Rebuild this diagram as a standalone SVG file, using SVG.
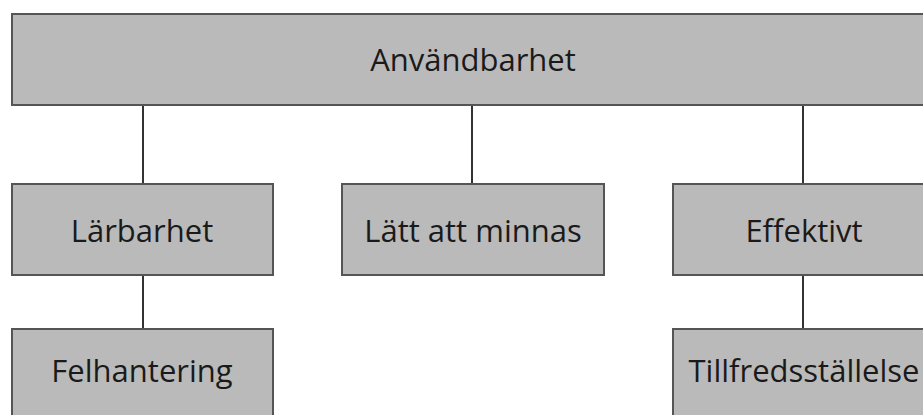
<svg xmlns="http://www.w3.org/2000/svg" width="923" height="415" viewBox="0 0 923 415">
  <style>
    .box { fill: #bababa; stroke: #555555; stroke-width: 2; }
    .lbl { font-family: "Open Sans", "Liberation Sans", sans-serif; font-size: 31px; fill: #1a1a1a; text-anchor: middle; }
    .wire { stroke: #333333; stroke-width: 2; fill: none; }
  </style>
  <rect width="923" height="415" fill="#ffffff"/>

  <g id="connectors">
    <line class="wire" x1="143" y1="105" x2="143" y2="184"/>
    <line class="wire" x1="472" y1="105" x2="472" y2="184"/>
    <line class="wire" x1="803" y1="105" x2="803" y2="184"/>
    <line class="wire" x1="143" y1="275" x2="143" y2="329"/>
    <line class="wire" x1="803" y1="275" x2="803" y2="329"/>
  </g>

  <g id="anvandbarhet">
    <rect class="box" x="12" y="14" width="922" height="91"/>
    <text class="lbl" x="473" y="71">Användbarhet</text>
  </g>

  <g id="larbarhet">
    <rect class="box" x="12" y="184" width="261" height="91"/>
    <text class="lbl" x="142" y="242">Lärbarhet</text>
  </g>

  <g id="latt-att-minnas">
    <rect class="box" x="342" y="184" width="262" height="91"/>
    <text class="lbl" x="473" y="242">Lätt att minnas</text>
  </g>

  <g id="effektivt">
    <rect class="box" x="673" y="184" width="262" height="91"/>
    <text class="lbl" x="804" y="242">Effektivt</text>
  </g>

  <g id="felhantering">
    <rect class="box" x="12" y="329" width="261" height="100"/>
    <text class="lbl" x="142" y="382">Felhantering</text>
  </g>

  <g id="tillfredsstallelse">
    <rect class="box" x="673" y="329" width="262" height="100"/>
    <text class="lbl" x="804" y="382">Tillfredsställelse</text>
  </g>
</svg>
